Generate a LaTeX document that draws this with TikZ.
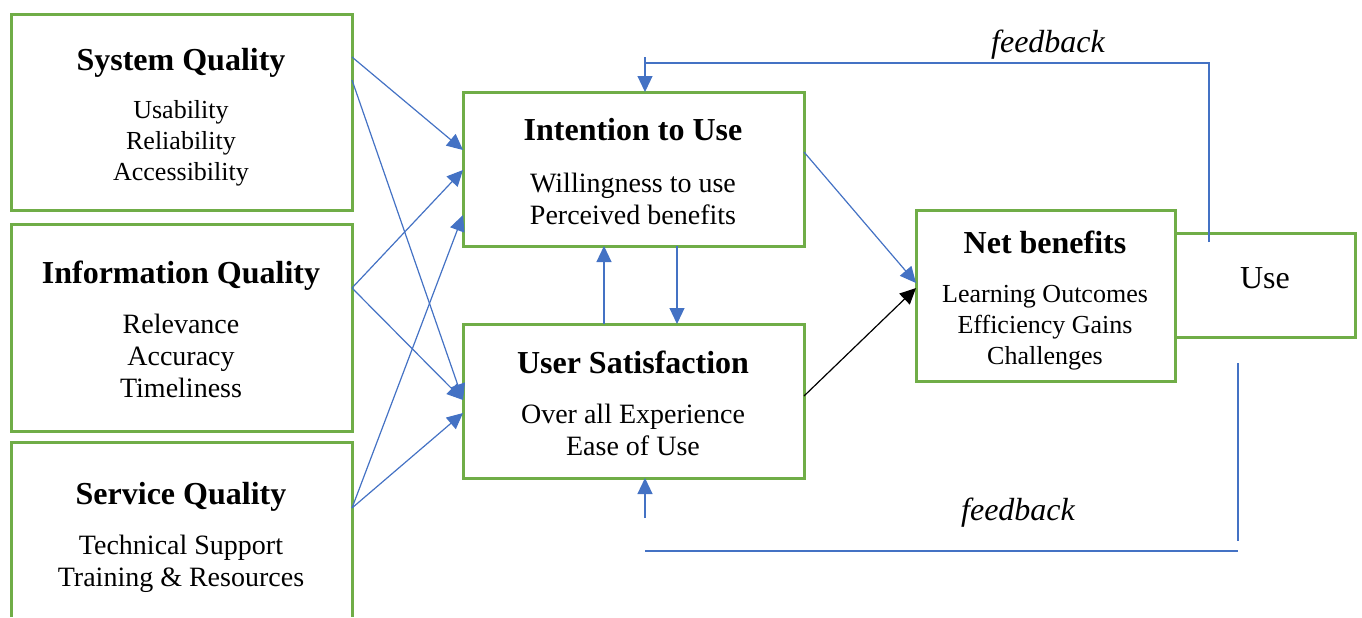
\documentclass[tikz,border=0pt]{standalone}
\usepackage{fontspec}
\setmainfont{Liberation Serif}
\usetikzlibrary{arrows.meta,calc}
\definecolor{boxgreen}{HTML}{70AD47}
\definecolor{linkblue}{HTML}{4472C4}
\tikzset{
  >={Triangle[length=8pt,width=7.5pt]},
  box/.style={draw=boxgreen,line width=1.5pt,inner sep=0pt,outer sep=0pt},
  boxtitle/.style={font=\fontsize{16}{19}\selectfont\bfseries},
  boxbody/.style={font=\fontsize{14}{16}\selectfont,align=center},
  smallbody/.style={font=\fontsize{13}{15.5}\selectfont,align=center},
  link/.style={draw=linkblue,line width=0.6pt},
  fbtext/.style={font=\fontsize{16}{19}\selectfont\itshape}
}

\begin{document}
\begin{tikzpicture}[x=0.5pt,y=-0.5pt]
  \useasboundingbox (0,0) rectangle (1362,617);
  % boxes
  \node[box,minimum width=170.5pt,minimum height=98pt] (sysq) at (181.5,112) {};
  \node[box,minimum width=170.5pt,minimum height=103.5pt] (infoq) at (181.5,327.5) {};
  \node[inner sep=0pt,outer sep=0pt,minimum width=170.5pt,minimum height=87.5pt] (servq) at (181.5,529.5) {};
  \draw[boxgreen,line width=1.5pt] (servq.south west) -- (servq.north west) -- (servq.north east) -- (servq.south east);
  \node[box,minimum width=170.5pt,minimum height=77pt] (intent) at (633.5,169) {};
  \node[box,minimum width=170.5pt,minimum height=77pt] (usersat) at (633.5,401) {};
  \node[box,minimum width=129.5pt,minimum height=85.5pt] (netben) at (1045.5,295.5) {};
  \node[box,minimum width=90pt,minimum height=52pt] (use) at (1265,285) {};

  % texts
  \node[boxtitle] (sysqt) at (181,63) {System Quality};
  \node[smallbody] (sysqb) at (181,143) {Usability\\Reliability\\Accessibility};
  \node[boxtitle] (infoqt) at (181,276) {Information Quality};
  \node[boxbody] (infoqb) at (181,356) {Relevance\\Accuracy\\Timeliness};
  \node[boxtitle] (servqt) at (181,497) {Service Quality};
  \node[boxbody] (servqb) at (181,564) {Technical Support\\Training \& Resources};
  \node[boxtitle] (intentt) at (633,130) {Intention to Use};
  \node[boxbody] (intentb) at (633,199) {Willingness to use\\Perceived benefits};
  \node[boxtitle] (usersatt) at (633,362) {User Satisfaction};
  \node[boxbody] (usersatb) at (633,430) {Over all Experience\\Ease of Use};
  \node[boxtitle] (netbent) at (1045,242) {Net benefits};
  \node[smallbody] (netbenb) at (1045,327.5) {Learning Outcomes\\Efficiency Gains\\Challenges};
  \node[font=\fontsize{16}{19}\selectfont] (uset) at (1265,278) {Use};
  \node[fbtext] (fbone) at (1048,45) {feedback};
  \node[fbtext] (fbtwo) at (1018,513) {feedback};

  % links
  \draw[link,->] ($(sysq.north east)+(0,43)$) -- ($(intent.north west)+(0,58)$);
  \draw[link,->] ($(sysq.north east)+(0,66)$) -- ($(usersat.north west)+(0,76)$);
  \draw[link,->] ($(infoq.north east)+(0,64)$) -- ($(intent.north west)+(0,78)$);
  \draw[link,->] ($(infoq.north east)+(0,64)$) -- ($(usersat.north west)+(0,76)$);
  \draw[link,->] ($(servq.north east)+(0,66)$) -- ($(intent.north west)+(0,123)$);
  \draw[link,->] ($(servq.north east)+(0,66)$) -- ($(usersat.north west)+(0,89)$);
  \draw[link,->] ($(intent.north east)+(0,60)$) -- ($(netben.north west)+(0,73)$);
  \draw[line width=0.6pt,->] ($(usersat.north east)+(0,72)$) -- ($(netben.north west)+(0,78)$);
  \draw[link,->] ($(usersat.north west)+(141,0)$) -- ($(intent.south west)+(141,0)$);
  \draw[link,->] ($(intent.south west)+(214,0)$) -- ($(usersat.north west)+(214,0)$);

  % feedback
  \draw[link] ($(use.north west)+(34,9)$) |- ($(intent.north west)+(182,-29)$);
  \draw[link,->] ($(intent.north west)+(182,-35)$) -- ($(intent.north west)+(182,0)$);
  \draw[link] ($(use.south west)+(63,26)$) -- ($(use.south west)+(63,204)$);
  \draw[link] ($(usersat.south west)+(182,73)$) -- ($(use.south west)+(63,214)$);
  \draw[link,->] ($(usersat.south west)+(182,40)$) -- ($(usersat.south west)+(182,0)$);
\end{tikzpicture}
\end{document}
